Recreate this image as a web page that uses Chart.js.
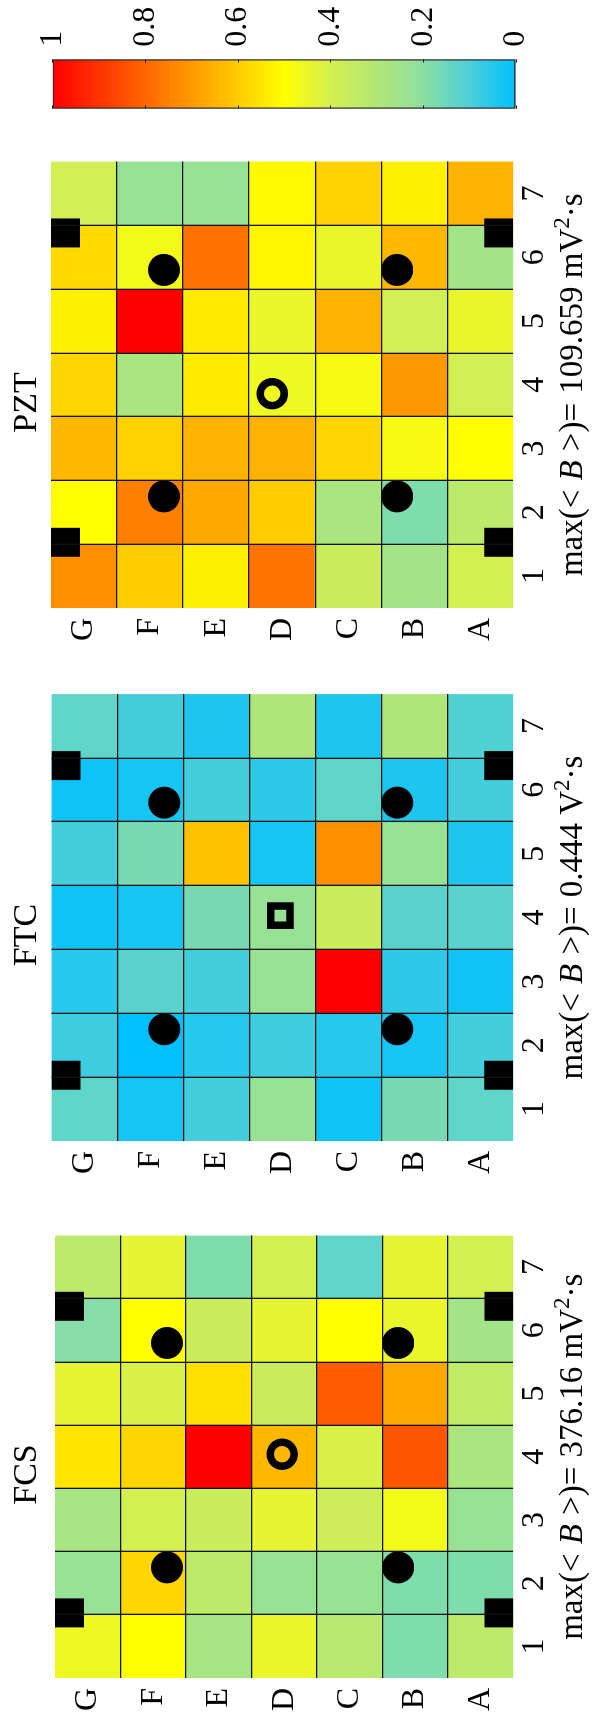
<!DOCTYPE html>
<html>
<head>
<meta charset="utf-8">
<script src="https://cdn.jsdelivr.net/npm/chart.js@4.4.1/dist/chart.umd.min.js"></script>
<style>
  html, body { margin: 0; padding: 0; width: 592px; height: 1718px; overflow: hidden; background: #fff; }
  /* the figure is laid out landscape and turned a quarter to the left */
  #fig { position: absolute; left: 0; top: 0; width: 1718px; height: 592px; background: #fff;
         transform-origin: 0 0; transform: translateY(1718px) rotate(-90deg); }
  #fig canvas { position: absolute; top: 0; }
</style>
</head>
<body>
<div id="fig">
  <canvas id="fcs"></canvas>
  <canvas id="ftc"></canvas>
  <canvas id="pzt"></canvas>
  <canvas id="cbar"></canvas>
</div>
<script>
// Grid labels
const ROWS = ['A', 'B', 'C', 'D', 'E', 'F', 'G'];
const COLS = [1, 2, 3, 4, 5, 6, 7];

// Normalised <B>, one line per row (A..G), columns 1..7
const FCS_VALUES = [
  [0.33, 0.18, 0.23, 0.28, 0.34, 0.26, 0.40],
  [0.18, 0.18, 0.47, 0.83, 0.67, 0.45, 0.44],
  [0.32, 0.23, 0.38, 0.41, 0.82, 0.50, 0.13],
  [0.45, 0.23, 0.44, 0.64, 0.37, 0.44, 0.40],
  [0.27, 0.33, 0.37, 1.00, 0.56, 0.37, 0.18],
  [0.50, 0.58, 0.40, 0.58, 0.41, 0.50, 0.44],
  [0.46, 0.23, 0.27, 0.55, 0.44, 0.19, 0.33],
];
const FTC_VALUES = [
  [0.13, 0.09, 0.02, 0.12, 0.04, 0.09, 0.11],
  [0.17, 0.03, 0.06, 0.12, 0.23, 0.04, 0.29],
  [0.02, 0.05, 1.00, 0.37, 0.72, 0.13, 0.04],
  [0.23, 0.08, 0.23, 0.23, 0.03, 0.06, 0.29],
  [0.09, 0.05, 0.09, 0.17, 0.62, 0.09, 0.04],
  [0.03, 0.00, 0.12, 0.03, 0.17, 0.03, 0.09],
  [0.13, 0.08, 0.05, 0.02, 0.09, 0.02, 0.13],
];
const PZT_VALUES = [
  [0.40, 0.33, 0.50, 0.39, 0.45, 0.26, 0.65],
  [0.26, 0.18, 0.48, 0.70, 0.39, 0.64, 0.53],
  [0.37, 0.28, 0.58, 0.48, 0.65, 0.45, 0.59],
  [0.77, 0.60, 0.65, 0.46, 0.45, 0.52, 0.51],
  [0.53, 0.67, 0.65, 0.54, 0.54, 0.78, 0.23],
  [0.60, 0.75, 0.59, 0.28, 1.00, 0.47, 0.23],
  [0.72, 0.50, 0.64, 0.58, 0.53, 0.57, 0.39],
];

// Panel titles and max(<B>) values
const TITLES = ['FCS', 'FTC', 'PZT'];
const MAX_B = ['376.16 mV', '0.444 V', '109.659 mV'];

// Colorbar ticks
const CBAR_TICKS = [0, 0.2, 0.4, 0.6, 0.8, 1];

// Sensors (column, row with A = 1)
const SENSOR_DOTS = [[2.25, 2.26], [5.8, 2.26], [2.25, 5.79], [5.8, 5.79]];
const SENSOR_SQUARES = [[1.53, 0.72], [6.38, 0.72], [1.53, 7.28], [6.38, 7.28]];
// Excitation point of each panel
const SOURCES = [[4.04, 4.03], [4.03, 4.03], [3.86, 4.15]];

const FONT = "'Liberation Serif', 'Times New Roman', serif";
const FIG_H = 592;
const AXIS_W = 50;
const PAD_R = 6;

// Colormap: blue -> mint -> yellow -> red
const CMAP_STOPS = [0, 0.1, 0.2, 0.3, 0.4, 0.45, 0.5, 1];
const CMAP_RGB = [
  [0, 192, 255], [76, 207, 216], [140, 223, 162], [178, 231, 118],
  [212, 240, 80], [234, 246, 44], [255, 255, 0], [255, 0, 0],
];
const colormap = (v) => {
  const t = Math.min(1, Math.max(0, v));
  let i = 0;
  while (i < CMAP_STOPS.length - 2 && t > CMAP_STOPS[i + 1]) i += 1;
  const f = (t - CMAP_STOPS[i]) / (CMAP_STOPS[i + 1] - CMAP_STOPS[i]);
  const c = CMAP_RGB[i].map((a, k) => Math.round(a + (CMAP_RGB[i + 1][k] - a) * f));
  return `rgb(${c[0]},${c[1]},${c[2]})`;
};

// Only the lines between cells are drawn, not the outer edges
const innerLine = (c) => (c.index > 0 && c.index < 7 ? '#111' : 'rgba(0,0,0,0)');

// x label with italic B, math spacing and a superscript
const xLabel = {
  id: 'xLabel',
  afterDraw(chart, args, opts) {
    const { ctx, chartArea } = chart;
    const size = 33;
    const thick = (size * 5) / 18;
    const parts = [
      { t: 'max(<' },
      { gap: thick },
      { t: 'B', italic: true },
      { gap: thick },
      { t: '>)=' },
      { gap: thick },
      { t: opts.text },
      { t: '2', sup: true },
      { t: '·s' },
    ];
    const fontOf = (p) => `${p.italic ? 'italic ' : ''}${p.sup ? 23 : size}px ${FONT}`;
    ctx.save();
    let total = 0;
    parts.forEach((p) => {
      if (p.gap) { p.w = p.gap; } else { ctx.font = fontOf(p); p.w = ctx.measureText(p.t).width; }
      total += p.w;
    });
    let x = (chartArea.left + chartArea.right) / 2 - total / 2;
    ctx.fillStyle = '#000';
    ctx.textBaseline = 'alphabetic';
    ctx.textAlign = 'left';
    parts.forEach((p) => {
      if (!p.gap) {
        ctx.font = fontOf(p);
        ctx.fillText(p.t, x, opts.baseline - (p.sup ? 13 : 0));
      }
      x += p.w;
    });
    ctx.restore();
  },
};

const heatmap = (canvasId, idx, values, area, sourceStyle) => {
  const canvas = document.getElementById(canvasId);
  const left = area.left - AXIS_W;
  const width = area.right - left + PAD_R;
  canvas.style.left = `${left}px`;
  canvas.width = width;
  canvas.height = FIG_H;
  const source = SOURCES[idx];
  const hollowSquare = sourceStyle === 'rect';
  const tickFont = { family: FONT, size: 32 };
  const datasets = [
    {
      type: 'scatter',
      order: 0,
      data: SENSOR_DOTS.map(([x, y]) => ({ x, y })),
      pointStyle: 'circle',
      pointRadius: 16,
      backgroundColor: '#000',
      borderWidth: 0,
    },
    {
      type: 'scatter',
      order: 0,
      data: SENSOR_SQUARES.map(([x, y]) => ({ x, y })),
      pointStyle: 'rect',
      pointRadius: 20.5,
      backgroundColor: '#000',
      borderWidth: 0,
    },
    {
      type: 'scatter',
      order: 0,
      data: [{ x: source[0], y: source[1] }],
      pointStyle: sourceStyle,
      pointRadius: hollowSquare ? 13.6 : 12,
      backgroundColor: 'rgba(0,0,0,0)',
      borderColor: '#000',
      borderWidth: 7.5,
    },
    ...ROWS.map((r, i) => ({
      type: 'bar',
      order: 1,
      label: r,
      data: COLS.map((c) => ({ x: c, y: [i + 0.5, i + 1.5] })),
      backgroundColor: values[i].map(colormap),
      borderWidth: 0,
      grouped: false,
      barPercentage: 1,
      categoryPercentage: 1,
    })),
  ];
  // eslint-disable-next-line no-new
  new Chart(canvas, {
    type: 'bar',
    data: { datasets },
    options: {
      responsive: false,
      animation: false,
      devicePixelRatio: 1,
      events: [],
      layout: { padding: { left: 0, right: PAD_R, top: 0, bottom: 0 } },
      plugins: {
        legend: { display: false },
        tooltip: { enabled: false },
        title: {
          display: true,
          text: TITLES[idx],
          color: '#000',
          font: { family: FONT, size: 34, weight: 'normal', lineHeight: 1 },
          padding: { top: 10, bottom: area.top - 44 },
        },
        xLabel: { text: MAX_B[idx], baseline: 582 },
      },
      scales: {
        x: {
          type: 'linear',
          min: 0.5,
          max: 7.5,
          offset: false,
          afterBuildTicks: (s) => { s.ticks = COLS.map((v) => ({ value: v })); },
          afterFit: (s) => { s.height = FIG_H - area.bottom; },
          grid: { offset: true, z: 1, drawTicks: false, color: innerLine, lineWidth: 1.3 },
          border: { display: false },
          ticks: {
            color: '#000', font: tickFont, padding: 2, autoSkip: false, maxRotation: 0,
            callback: (v) => String(v),
          },
        },
        y: {
          type: 'linear',
          min: 0.5,
          max: 7.5,
          beginAtZero: false,
          afterBuildTicks: (s) => { s.ticks = COLS.map((v) => ({ value: v })); },
          afterFit: (s) => { s.width = AXIS_W; },
          grid: { offset: true, z: 1, drawTicks: false, color: innerLine, lineWidth: 1.3 },
          border: { display: false },
          ticks: {
            color: '#000', font: tickFont, padding: 10, autoSkip: false,
            callback: (v) => ROWS[v - 1],
          },
        },
      },
    },
    plugins: [xLabel],
  });
};

heatmap('fcs', 0, FCS_VALUES, { left: 40.3, right: 498, top: 55, bottom: 513.3 }, 'circle');
heatmap('ftc', 1, FTC_VALUES, { left: 577, right: 1039, top: 51.5, bottom: 513.3 }, 'rect');
heatmap('pzt', 2, PZT_VALUES, { left: 1109.7, right: 1571.3, top: 51, bottom: 513.3 }, 'circle');

// Colorbar
const cbarGradient = (c) => {
  const { chart } = c;
  if (!chart.chartArea) return null;
  const y = chart.scales.y;
  const g = chart.ctx.createLinearGradient(0, y.getPixelForValue(0), 0, y.getPixelForValue(1));
  for (let i = 0; i <= 40; i += 1) g.addColorStop(i / 40, colormap(i / 40));
  return g;
};
const cbCanvas = document.getElementById('cbar');
cbCanvas.style.left = '1600px';
cbCanvas.width = 118;
cbCanvas.height = FIG_H;
// eslint-disable-next-line no-new
new Chart(cbCanvas, {
  type: 'bar',
  data: {
    labels: [''],
    datasets: [{
      data: [[0, 1]],
      backgroundColor: cbarGradient,
      borderColor: '#222',
      borderWidth: 1.5,
      borderSkipped: false,
      barPercentage: 1,
      categoryPercentage: 1,
    }],
  },
  options: {
    responsive: false,
    animation: false,
    devicePixelRatio: 1,
    events: [],
    layout: { padding: { left: 9.3, right: 0, top: 52.7, bottom: 76 } },
    plugins: { legend: { display: false }, tooltip: { enabled: false } },
    scales: {
      x: { display: false },
      y: {
        position: 'right',
        min: 0,
        max: 1,
        afterBuildTicks: (s) => { s.ticks = CBAR_TICKS.map((v) => ({ value: v })); },
        afterFit: (s) => { s.width = 59.3; },
        grid: { z: 1, drawTicks: false, color: '#222', lineWidth: 1 },
        border: { display: false, dash: [3.3, 42.8] },
        ticks: {
          color: '#000',
          font: { family: FONT, size: 32 },
          padding: 12.6,
          callback: (v) => String(Number(v.toFixed(1))),
        },
      },
    },
  },
});
</script>
</body>
</html>
